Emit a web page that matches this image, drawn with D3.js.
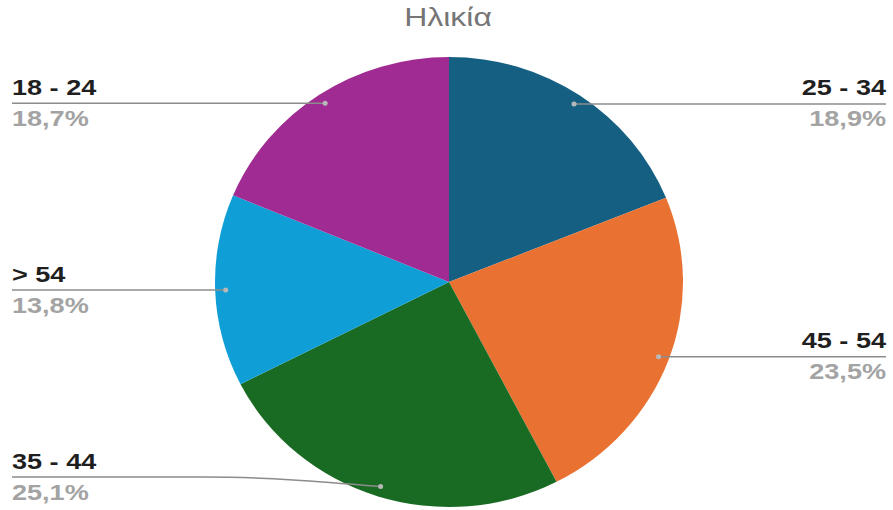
<!DOCTYPE html>
<html>
<head>
<meta charset="utf-8">
<script src="https://cdn.jsdelivr.net/npm/d3@7"></script>
<style>
  html, body { margin: 0; padding: 0; background: #fff; }
  svg { display: block; font-family: "Liberation Sans", Arial, sans-serif; }
</style>
</head>
<body>
<svg id="chart" width="893" height="510"></svg>
<script>
const title = "Ηλικία";
const categories = ["25 - 34", "45 - 54", "35 - 44", "> 54", "18 - 24"];
const values = [18.9, 23.5, 25.1, 13.8, 18.7];
const percentLabels = ["18,9%", "23,5%", "25,1%", "13,8%", "18,7%"];
const colors = ["#156082", "#E97132", "#196B24", "#0F9ED5", "#A02B93"];

const W = 893, H = 510;
const cx = 449, cy = 282, r = 225, sx = 234 / 225;
const textStretch = 1.23;
const svg = d3.select("#chart");

svg.append("text")
  .attr("transform", `translate(448,26) scale(${textStretch},1)`)
  .attr("text-anchor", "middle")
  .attr("fill", "#757575")
  .attr("font-size", 26)
  .text(title);

const data = categories.map((c, i) => ({ cat: c, value: values[i], pct: percentLabels[i], color: colors[i] }));
const pie = d3.pie().value(d => d.value).sort(null);
const arcs = pie(data);
const arc = d3.arc().innerRadius(0).outerRadius(r);

const g = svg.append("g").attr("transform", `translate(${cx},${cy}) scale(${sx},1)`);
g.selectAll("path").data(arcs).join("path")
  .attr("d", arc)
  .attr("fill", d => d.data.color);

const k = 0.955;
const leftX = 12, rightX = 886;
arcs.forEach(a => {
  const mid = (a.startAngle + a.endAngle) / 2;
  const dx = cx + sx * k * r * Math.sin(mid);
  const dy = cy - k * r * Math.cos(mid);
  const right = Math.sin(mid) > 0;
  const ly = Math.min(dy, H - 33);
  const endX = right ? rightX : leftX;
  let pts;
  if (Math.abs(ly - dy) > 0.5) {
    const ex = right ? dx + 175 : dx - 175;
    pts = [[dx, dy], [ex, ly], [endX, ly]];
  } else {
    pts = [[dx, dy], [endX, ly]];
  }
  svg.append("path")
    .attr("d", d3.line().curve(d3.curveMonotoneX)(pts.slice().sort((p, q) => p[0] - q[0])))
    .attr("fill", "none")
    .attr("stroke", "#8c8c8c")
    .attr("stroke-width", 1.5);
  svg.append("circle")
    .attr("cx", dx).attr("cy", dy).attr("r", 2.5)
    .attr("fill", "#b8b8b8");
  const anchor = right ? "end" : "start";
  svg.append("text")
    .attr("transform", `translate(${endX},${ly - 8.5}) scale(${textStretch},1)`)
    .attr("text-anchor", anchor)
    .attr("font-size", 22).attr("font-weight", "bold")
    .attr("fill", "#1f1f1f")
    .text(a.data.cat);
  svg.append("text")
    .attr("transform", `translate(${endX},${ly + 22.5}) scale(${textStretch},1)`)
    .attr("text-anchor", anchor)
    .attr("font-size", 22).attr("font-weight", "bold")
    .attr("fill", "#a3a3a3")
    .text(a.data.pct);
});
</script>
</body>
</html>
